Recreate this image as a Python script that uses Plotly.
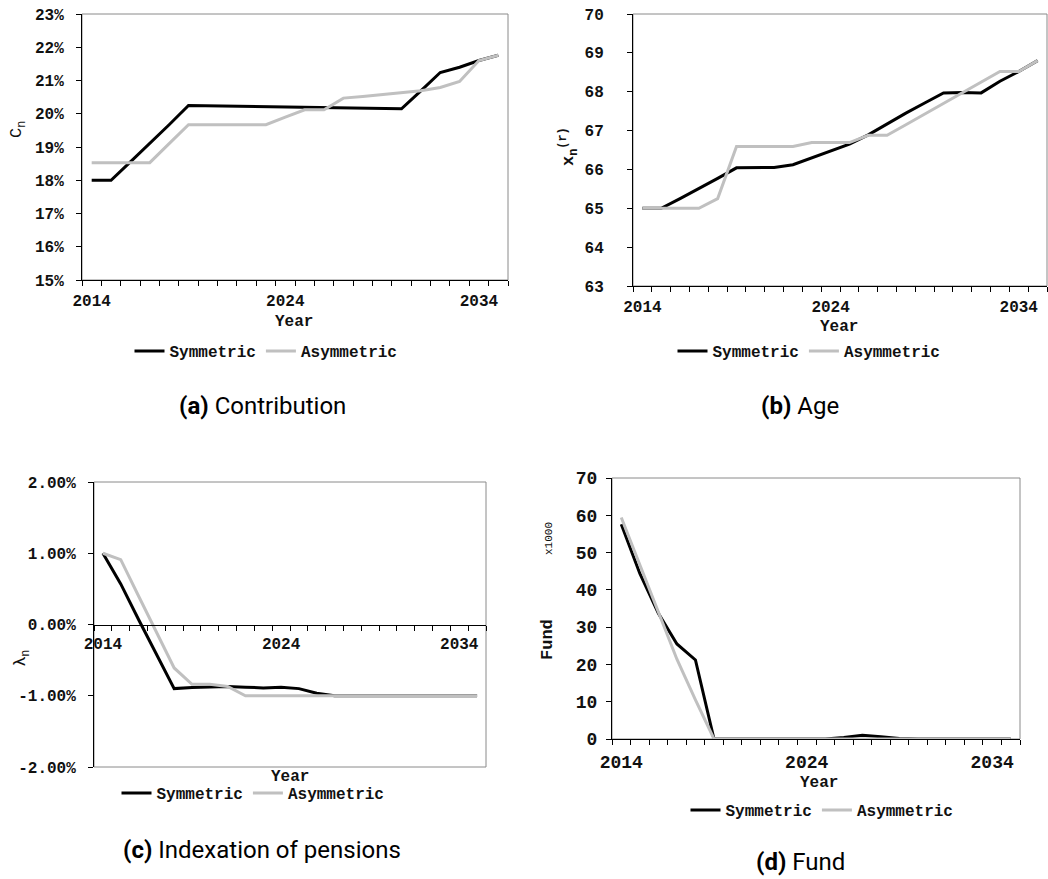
import plotly.graph_objects as go

# ---- data -------------------------------------------------------------
years = list(range(2014, 2036))
year_ticks = [2014, 2024, 2034]
year_labels = ["2014", "2024", "2034"]

contrib_sym = [18.0, 18.0, 18.55, 19.1, 19.67, 20.25, 20.24, 20.23, 20.22, 20.21, 20.21,
               20.2, 20.19, 20.18, 20.17, 20.16, 20.15, 20.69, 21.24, 21.4, 21.6, 21.76]
contrib_asym = [18.53, 18.53, 18.53, 18.53, 19.1, 19.67, 19.67, 19.67, 19.67, 19.67, 19.9,
                20.12, 20.12, 20.47, 20.52, 20.58, 20.63, 20.69, 20.79, 20.97, 21.6, 21.76]
contrib_ticks = [15, 16, 17, 18, 19, 20, 21, 22, 23]
contrib_labels = ["15%", "16%", "17%", "18%", "19%", "20%", "21%", "22%", "23%"]

age_sym = [65.0, 65.0, 65.25, 65.5, 65.77, 66.04, 66.04, 66.05, 66.12, 66.29, 66.46,
           66.65, 66.89, 67.18, 67.45, 67.71, 67.97, 67.98, 67.97, 68.27, 68.52, 68.8]
age_asym = [65.0, 65.0, 65.0, 65.0, 65.25, 66.59, 66.59, 66.59, 66.59, 66.69, 66.69,
            66.69, 66.88, 66.88, 67.15, 67.42, 67.7, 67.97, 68.24, 68.52, 68.52, 68.8]
age_ticks = [63, 64, 65, 66, 67, 68, 69, 70]
age_labels = ["63", "64", "65", "66", "67", "68", "69", "70"]

index_sym = [1.0, 0.57, 0.07, -0.42, -0.9, -0.885, -0.875, -0.87, -0.88, -0.89, -0.88,
             -0.9, -0.965, -1.0, -1.0, -1.0, -1.0, -1.0, -1.0, -1.0, -1.0, -1.0]
index_asym = [1.0, 0.91, 0.4, -0.1, -0.61, -0.84, -0.84, -0.87, -1.0, -1.0, -1.0,
              -1.0, -1.0, -1.0, -1.0, -1.0, -1.0, -1.0, -1.0, -1.0, -1.0, -1.0]
index_ticks = [-2, -1, 0, 1, 2]
index_labels = ["-2.00%", "-1.00%", "0.00%", "1.00%", "2.00%"]

fund_sym = [57.6, 44.4, 33.7, 25.5, 21.2, 0, 0, 0, 0, 0, 0,
            0, 0.4, 1.0, 0.6, 0.15, 0, 0, 0, 0, 0, 0]
fund_asym = [59.4, 46.7, 34.1, 21.4, 10.5, 0, 0, 0, 0, 0, 0,
             0, 0, 0, 0, 0, 0, 0, 0, 0, 0, 0]
fund_ticks = [0, 10, 20, 30, 40, 50, 60, 70]
fund_labels = ["0", "10", "20", "30", "40", "50", "60", "70"]

# ---- styling ----------------------------------------------------------
W, H = 1048, 879
MONO = "Liberation Mono, Courier New, monospace"
SANS = "Roboto, Liberation Sans, sans-serif"
SYM_COLOR = "#000000"
ASYM_COLOR = "#c0c0c0"
BORDER = "#8a8a8a"


def fx(px):
    return px / W


def fy(py):
    return 1 - py / H


# panel boxes in pixels: (left, right, top, bottom)
boxes = {
    "a": (82, 508, 14, 280),
    "b": (633, 1047, 14, 286),
    "c": (94, 486, 482, 767),
    "d": (612, 1020, 478, 739),
}

fig = go.Figure()

panels = [
    ("a", "x", "y", contrib_sym, contrib_asym, "legend"),
    ("b", "x2", "y2", age_sym, age_asym, "legend2"),
    ("c", "x3", "y3", index_sym, index_asym, "legend3"),
    ("d", "x4", "y4", fund_sym, fund_asym, "legend4"),
]

for key, xa, ya, sym, asym, leg in panels:
    fig.add_trace(go.Scatter(x=years, y=sym, mode="lines", name="Symmetric",
                             line=dict(color=SYM_COLOR, width=3),
                             xaxis=xa, yaxis=ya, legend=leg))
    fig.add_trace(go.Scatter(x=years, y=asym, mode="lines", name="Asymmetric",
                             line=dict(color=ASYM_COLOR, width=3),
                             xaxis=xa, yaxis=ya, legend=leg))


def x_axis(key, size, standoff, anchor, position=None):
    l, r, t, b = boxes[key]
    d = dict(
        domain=[fx(l), fx(r)], range=[2013.5, 2035.5], automargin=False,
        tickmode="array", tickvals=year_ticks, ticktext=year_labels,
        ticks="", ticklabelstandoff=standoff,
        tickfont=dict(family=MONO, size=size, color="#111", weight="bold"),
        showgrid=False, zeroline=False,
        showline=True, linecolor="black", linewidth=1,
        minor=dict(ticks="outside", ticklen=5, tickcolor="black", tickwidth=1,
                   tickmode="linear", tick0=2013.5, dtick=1, showgrid=False),
        anchor=anchor, fixedrange=True,
    )
    if position is not None:
        d["anchor"] = "free"
        d["position"] = position
    return d


def y_axis(key, rng, tickvals, ticktext, size, standoff, anchor):
    l, r, t, b = boxes[key]
    return dict(
        domain=[fy(b), fy(t)], range=rng, automargin=False,
        tickmode="array", tickvals=tickvals, ticktext=ticktext,
        ticks="outside", ticklen=5, tickcolor="black", ticklabelstandoff=standoff,
        tickfont=dict(family=MONO, size=size, color="#111", weight="bold"),
        showgrid=False, zeroline=False,
        showline=True, linecolor="black", linewidth=1,
        anchor=anchor, fixedrange=True,
    )


fig.update_layout(
    template="none",
    xaxis=x_axis("a", 16, 6, "y"),
    yaxis=y_axis("a", [15, 23], contrib_ticks, contrib_labels, 16, 9, "x"),
    xaxis2=x_axis("b", 16, 6, "y2"),
    yaxis2=y_axis("b", [63, 70], age_ticks, age_labels, 16, 20, "x2"),
    xaxis3=x_axis("c", 16, 4, "y3",
                  position=(fy(boxes["c"][3]) + fy(boxes["c"][2])) / 2),
    yaxis3=y_axis("c", [-2, 2], index_ticks, index_labels, 16, 9, "x3"),
    xaxis4=x_axis("d", 18, 6, "y4"),
    yaxis4=y_axis("d", [0, 70], fund_ticks, fund_labels, 18, 5, "x4"),
)

# grey frame around each plotting area
for key, (l, r, t, b) in boxes.items():
    fig.add_shape(type="rect", xref="paper", yref="paper",
                  x0=fx(l), x1=fx(r), y0=fy(b), y1=fy(t),
                  line=dict(color=BORDER, width=1), layer="below")

# legends, one per panel
leg_pos = {"legend": (266, 351), "legend2": (809, 351),
           "legend3": (253, 793), "legend4": (822, 810)}
legend_cfg = {}
for name, (px, py) in leg_pos.items():
    legend_cfg[name] = dict(
        x=fx(px), y=fy(py), xanchor="center", yanchor="middle",
        orientation="h", itemwidth=30, tracegroupgap=0,
        font=dict(family=MONO, size=16, color="#111", weight="bold"),
        bgcolor="rgba(0,0,0,0)", itemclick=False, itemdoubleclick=False,
    )
fig.update_layout(**legend_cfg)

# axis titles
ann = []


def add_text(text, px, py, size, family=MONO, bold=True, angle=0, color="#111"):
    ann.append(dict(text=text, x=fx(px), y=fy(py), xref="paper", yref="paper",
                    xanchor="center", yanchor="middle", showarrow=False,
                    textangle=angle,
                    font=dict(family=family, size=size, color=color,
                              weight="bold" if bold else "normal")))


add_text("Year", 294, 322, 16)
add_text("Year", 839, 327, 16)
add_text("Year", 290, 777, 16)
add_text("Year", 819, 783, 16)

add_text("C<sub>n</sub>", 18, 130, 17, bold=False, angle=-90)
add_text("x<sub>n</sub><sup>(r)</sup>", 568, 147, 17, angle=-90)
add_text("λ<sub>n</sub>", 20, 658, 17, family=SANS, bold=False, angle=-90)
add_text("Fund", 547, 640, 17, angle=-90)
add_text("x1000", 549, 539, 11, bold=False, angle=-90)

# sub-figure captions
add_text("<b>(a)</b> Contribution", 262, 406, 24, family=SANS, bold=False, color="#000")
add_text("<b>(b)</b> Age", 800, 406, 24, family=SANS, bold=False, color="#000")
add_text("<b>(c)</b> Indexation of pensions", 262, 850, 24, family=SANS, bold=False, color="#000")
add_text("<b>(d)</b> Fund", 800, 862, 24, family=SANS, bold=False, color="#000")

fig.update_layout(
    annotations=ann,
    width=W, height=H,
    margin=dict(l=0, r=0, t=0, b=0, pad=0, autoexpand=False),
    paper_bgcolor="white", plot_bgcolor="white",
    showlegend=True,
)

fig.write_html("out.html", post_script="document.body.style.margin = '0px';")
